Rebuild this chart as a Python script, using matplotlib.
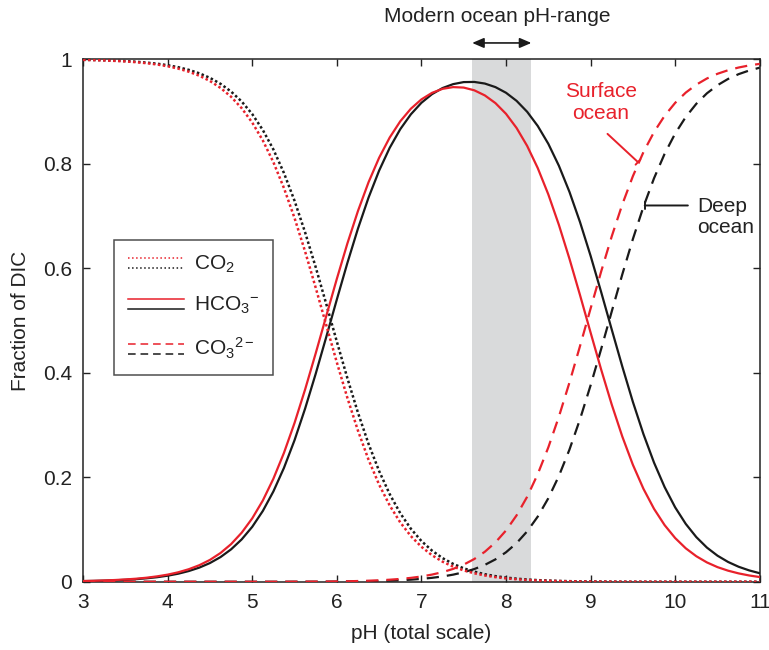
import matplotlib
matplotlib.use('Agg')
import matplotlib.pyplot as plt
from matplotlib.lines import Line2D
from matplotlib.legend_handler import HandlerBase

plt.rcParams['font.family'] = ['Liberation Sans', 'DejaVu Sans']
plt.rcParams['mathtext.fontset'] = 'custom'
plt.rcParams['mathtext.rm'] = 'Liberation Sans'
plt.rcParams['mathtext.it'] = 'Liberation Sans:italic'
plt.rcParams['mathtext.bf'] = 'Liberation Sans:bold'

# pH grid
ph = [3.0, 3.125, 3.25, 3.375, 3.5, 3.625, 3.75, 3.875,
      4.0, 4.125, 4.25, 4.375, 4.5, 4.625, 4.75, 4.875,
      5.0, 5.125, 5.25, 5.375, 5.5, 5.625, 5.75, 5.875,
      6.0, 6.125, 6.25, 6.375, 6.5, 6.625, 6.75, 6.875,
      7.0, 7.125, 7.25, 7.375, 7.5, 7.625, 7.75, 7.875,
      8.0, 8.125, 8.25, 8.375, 8.5, 8.625, 8.75, 8.875,
      9.0, 9.125, 9.25, 9.375, 9.5, 9.625, 9.75, 9.875,
      10.0, 10.125, 10.25, 10.375, 10.5, 10.625, 10.75, 10.875, 11.0]

# surface ocean (red)
co2_surf = [0.9986, 0.9982, 0.9976, 0.9967, 0.9957, 0.9942, 0.9923, 0.9898,
            0.9864, 0.9819, 0.9760, 0.9683, 0.9582, 0.9450, 0.9280, 0.9062,
            0.8787, 0.8445, 0.8029, 0.7533, 0.6961, 0.6320, 0.5628, 0.4912,
            0.4198, 0.3517, 0.2891, 0.2335, 0.1859, 0.1460, 0.1135, 0.0874,
            0.0669, 0.0508, 0.0384, 0.0289, 0.0217, 0.0162, 0.0120, 0.0088,
            0.0065, 0.0047, 0.0034, 0.0024, 0.0017, 0.0012, 0.0008, 0.0005,
            0.0003, 0.0002, 0.0001, 0.0, 0.0, 0.0, 0.0, 0.0,
            0.0, 0.0, 0.0, 0.0, 0.0, 0.0, 0.0, 0.0, 0.0]
hco3_surf = [0.0014, 0.0018, 0.0025, 0.0033, 0.0044, 0.0058, 0.0077, 0.0103,
             0.0136, 0.0181, 0.0240, 0.0317, 0.0418, 0.0550, 0.0720, 0.0938,
             0.1213, 0.1554, 0.1971, 0.2466, 0.3038, 0.3679, 0.4369, 0.5084,
             0.5795, 0.6474, 0.7095, 0.7645, 0.8113, 0.8500, 0.8811, 0.9051,
             0.9230, 0.9355, 0.9432, 0.9465, 0.9456, 0.9404, 0.9306, 0.9159,
             0.8954, 0.8683, 0.8340, 0.7917, 0.7413, 0.6830, 0.6181, 0.5485,
             0.4768, 0.4060, 0.3390, 0.2778, 0.2238, 0.1778, 0.1395, 0.1084,
             0.0836, 0.0640, 0.0488, 0.0370, 0.0280, 0.0212, 0.0160, 0.0120, 0.0090]
co3_surf = [0.0, 0.0, 0.0, 0.0, 0.0, 0.0, 0.0, 0.0,
            0.0, 0.0, 0.0, 0.0, 0.0, 0.0, 0.0, 0.0,
            0.0, 0.0, 0.0, 0.0001, 0.0001, 0.0002, 0.0003, 0.0004,
            0.0006, 0.0009, 0.0014, 0.0020, 0.0028, 0.0039, 0.0054, 0.0074,
            0.0101, 0.0137, 0.0184, 0.0246, 0.0328, 0.0435, 0.0574, 0.0753,
            0.0981, 0.1270, 0.1626, 0.2059, 0.2570, 0.3158, 0.3811, 0.4510,
            0.5228, 0.5937, 0.6609, 0.7221, 0.7761, 0.8222, 0.8605, 0.8916,
            0.9164, 0.9360, 0.9512, 0.9630, 0.9720, 0.9788, 0.9840, 0.9880, 0.9910]

# deep ocean (black)
co2_deep = [0.9988, 0.9984, 0.9979, 0.9972, 0.9963, 0.9951, 0.9934, 0.9913,
            0.9884, 0.9846, 0.9795, 0.9729, 0.9642, 0.9528, 0.9380, 0.9190,
            0.8949, 0.8645, 0.8272, 0.7821, 0.7291, 0.6686, 0.6021, 0.5315,
            0.4596, 0.3894, 0.3234, 0.2638, 0.2118, 0.1676, 0.1311, 0.1015,
            0.0780, 0.0596, 0.0452, 0.0342, 0.0257, 0.0193, 0.0144, 0.0107,
            0.0080, 0.0059, 0.0043, 0.0031, 0.0023, 0.0016, 0.0011, 0.0008,
            0.0005, 0.0004, 0.0002, 0.0001, 0.0, 0.0, 0.0, 0.0,
            0.0, 0.0, 0.0, 0.0, 0.0, 0.0, 0.0, 0.0, 0.0]
hco3_deep = [0.0012, 0.0016, 0.0021, 0.0028, 0.0037, 0.0049, 0.0066, 0.0087,
             0.0116, 0.0154, 0.0205, 0.0271, 0.0358, 0.0472, 0.0620, 0.0810,
             0.1051, 0.1354, 0.1728, 0.2179, 0.2708, 0.3313, 0.3978, 0.4683,
             0.5400, 0.6101, 0.6758, 0.7351, 0.7867, 0.8303, 0.8660, 0.8944,
             0.9165, 0.9330, 0.9447, 0.9522, 0.9561, 0.9564, 0.9533, 0.9465,
             0.9357, 0.9202, 0.8993, 0.8722, 0.8381, 0.7961, 0.7461, 0.6882,
             0.6237, 0.5543, 0.4826, 0.4117, 0.3441, 0.2824, 0.2279, 0.1812,
             0.1423, 0.1107, 0.0854, 0.0654, 0.0499, 0.0379, 0.0287, 0.0217, 0.0163]
co3_deep = [0.0, 0.0, 0.0, 0.0, 0.0, 0.0, 0.0, 0.0,
            0.0, 0.0, 0.0, 0.0, 0.0, 0.0, 0.0, 0.0,
            0.0, 0.0, 0.0, 0.0, 0.0001, 0.0001, 0.0001, 0.0002,
            0.0003, 0.0005, 0.0007, 0.0011, 0.0015, 0.0021, 0.0029, 0.0040,
            0.0055, 0.0075, 0.0101, 0.0136, 0.0182, 0.0243, 0.0323, 0.0428,
            0.0564, 0.0739, 0.0964, 0.1246, 0.1597, 0.2023, 0.2528, 0.3110,
            0.3758, 0.4454, 0.5172, 0.5882, 0.6558, 0.7176, 0.7721, 0.8188,
            0.8577, 0.8893, 0.9146, 0.9346, 0.9501, 0.9621, 0.9713, 0.9783, 0.9837]

modern_range = [7.6, 8.3]

RED = '#e8212b'
BLACK = '#1a1a1a'
TXT = '#222222'
DOT = (0, (1, 1))
DASH = (0, (5.5, 3.6))
FS = 15


class PairHandler(HandlerBase):
    # red line above, black line below, like the original key
    def create_artists(self, legend, orig_handle, xdescent, ydescent,
                       width, height, fontsize, trans):
        artists = []
        for h, frac in zip(orig_handle, (0.85, 0.15)):
            y = frac * height - ydescent
            ln = Line2D([-xdescent, width - xdescent], [y, y],
                        color=h.get_color(), linestyle=h.get_linestyle(),
                        linewidth=1.1, transform=trans)
            if h.get_linestyle() == '--':
                ln.set_dashes((5, 3.2))
            artists.append(ln)
        return artists


fig = plt.figure(figsize=(7.69, 6.5), dpi=100)
ax = fig.add_axes([0.108, 0.105, 0.880, 0.804])

ax.axvspan(modern_range[0], modern_range[1], color='#d9dadb', lw=0, zorder=0)

lw = 1.6
ax.plot(ph, co2_surf, color=RED, lw=1.8, linestyle=DOT, zorder=3)
ax.plot(ph, co2_deep, color=BLACK, lw=1.8, linestyle=DOT, zorder=2)
ax.plot(ph, hco3_deep, color=BLACK, lw=lw, zorder=2)
ax.plot(ph, hco3_surf, color=RED, lw=lw, zorder=3)
ax.plot(ph, co3_deep, color=BLACK, lw=lw, linestyle=DASH, zorder=2)
ax.plot(ph, co3_surf, color=RED, lw=lw, linestyle=DASH, zorder=3)

ax.set_xlim(3, 11)
ax.set_ylim(0, 1)
ax.set_xticks(range(3, 12))
ax.set_yticks([0, 0.2, 0.4, 0.6, 0.8, 1])
ax.set_yticklabels(['0', '0.2', '0.4', '0.6', '0.8', '1'])
ax.tick_params(direction='in', length=5, width=1, top=True, right=True,
               labelsize=FS, colors=TXT, pad=8)
for s in ax.spines.values():
    s.set_linewidth(1.1)
    s.set_color(TXT)

ax.set_xlabel('pH (total scale)', fontsize=FS, labelpad=9, color=TXT)
ax.set_ylabel('Fraction of DIC', fontsize=FS, labelpad=9, color=TXT)

# modern ocean range arrow and caption
ax.annotate('', xy=(modern_range[1], 1.031), xytext=(modern_range[0], 1.031),
            xycoords='data', annotation_clip=False,
            arrowprops=dict(arrowstyle='<|-|>, head_length=0.7, head_width=0.3',
                            color=BLACK, lw=1.2, shrinkA=0, shrinkB=0))
ax.text(7.9, 1.082, 'Modern ocean pH-range', ha='center', va='center',
        fontsize=FS, color=TXT, clip_on=False)

# curve labels
ax.text(9.12, 0.917, 'Surface\nocean', color=RED, ha='center', va='center',
        fontsize=FS, linespacing=1.15)
ax.annotate('', xy=(9.56, 0.803), xytext=(9.2, 0.857),
            arrowprops=dict(arrowstyle='-[, widthB=0.25, lengthB=0',
                            color=RED, lw=1.4, shrinkA=0, shrinkB=0))
ax.text(10.26, 0.698, 'Deep\nocean', color=TXT, ha='left', va='center',
        fontsize=FS, linespacing=1.15)
ax.annotate('', xy=(9.64, 0.72), xytext=(10.15, 0.72),
            arrowprops=dict(arrowstyle='-[, widthB=0.25, lengthB=0',
                            color=BLACK, lw=1.4, shrinkA=0, shrinkB=0))

# legend with red/black pairs
pairs = [
    (Line2D([], [], color=RED, linestyle=':'), Line2D([], [], color=BLACK, linestyle=':')),
    (Line2D([], [], color=RED, linestyle='-'), Line2D([], [], color=BLACK, linestyle='-')),
    (Line2D([], [], color=RED, linestyle='--'), Line2D([], [], color=BLACK, linestyle='--')),
]
labels = [r'CO$_2$', r'HCO$_3$$^{-}$', r'CO$_3$$^{2-}$']
leg = ax.legend(pairs, labels, handler_map={tuple: PairHandler()},
                loc='upper left', bbox_to_anchor=(0.046, 0.653),
                fontsize=FS, frameon=True, fancybox=False,
                handlelength=2.7, handleheight=0.7, handletextpad=0.5,
                labelspacing=0.95, borderpad=0.65, borderaxespad=0)
leg.get_frame().set_edgecolor(TXT)
leg.get_frame().set_linewidth(1.1)
for t in leg.get_texts():
    t.set_color(TXT)

plt.savefig('out.png', dpi=100)
plt.close()
